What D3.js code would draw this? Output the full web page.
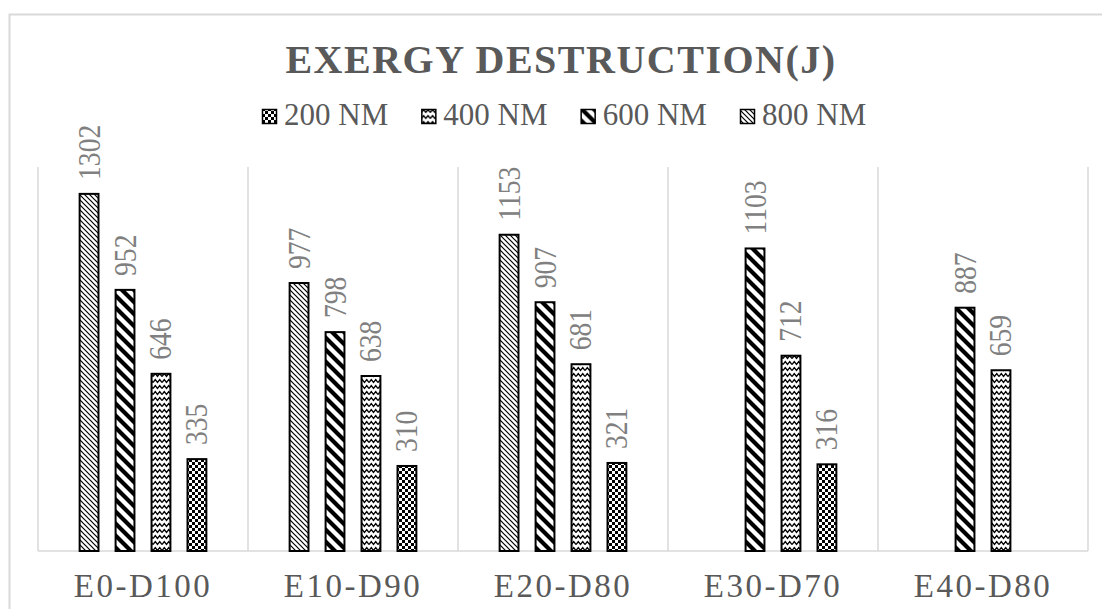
<!DOCTYPE html>
<html>
<head>
<meta charset="utf-8">
<script src="https://cdn.jsdelivr.net/npm/d3@7"></script>
<style>
  html, body { margin: 0; padding: 0; background: #fff; }
  svg { display: block; }
</style>
</head>
<body>
<svg id="chart" width="1102" height="609"></svg>
<script>
// Exergy destruction per blend and wavelength
const categories = ["E0-D100", "E10-D90", "E20-D80", "E30-D70", "E40-D80"];
const legendOrder = ["200 NM", "400 NM", "600 NM", "800 NM"];
const barOrder = ["800 NM", "600 NM", "400 NM", "200 NM"];
const values200 = [335, 310, 321, 316, null];
const values400 = [646, 638, 681, 712, 659];
const values600 = [952, 798, 907, 1103, 887];
const values800 = [1302, 977, 1153, null, null];
const yDomain = [0, 1400];

const seriesValues = {
  "200 NM": values200,
  "400 NM": values400,
  "600 NM": values600,
  "800 NM": values800
};
const patternId = {
  "200 NM": "pat-checker",
  "400 NM": "pat-wave",
  "600 NM": "pat-wide-diag",
  "800 NM": "pat-light-diag"
};

const serif = "'Liberation Serif', 'Times New Roman', serif";
const svg = d3.select("#chart");

// ---- fill patterns ----
const defs = svg.append("defs");

const checker = defs.append("pattern").attr("id", "pat-checker")
  .attr("patternUnits", "userSpaceOnUse").attr("width", 6).attr("height", 6);
checker.append("rect").attr("width", 6).attr("height", 6).attr("fill", "#fff");
checker.append("rect").attr("width", 3).attr("height", 3).attr("fill", "#000");
checker.append("rect").attr("x", 3).attr("y", 3).attr("width", 3).attr("height", 3).attr("fill", "#000");

const wave = defs.append("pattern").attr("id", "pat-wave")
  .attr("patternUnits", "userSpaceOnUse").attr("width", 9).attr("height", 6);
wave.append("rect").attr("width", 9).attr("height", 6).attr("fill", "#fff");
wave.append("path").attr("d", "M0,4.5 L2.25,1.5 L4.5,4.5 L6.75,1.5 L9,4.5")
  .attr("fill", "none").attr("stroke", "#000").attr("stroke-width", 1.3);

const wideDiag = defs.append("pattern").attr("id", "pat-wide-diag")
  .attr("patternUnits", "userSpaceOnUse").attr("width", 12).attr("height", 12);
wideDiag.append("rect").attr("width", 12).attr("height", 12).attr("fill", "#fff");
wideDiag.append("path").attr("d", "M-3,-3 L15,15 M-3,9 L3,15 M9,-3 L15,3")
  .attr("stroke", "#000").attr("stroke-width", 4.2);

const lightDiag = defs.append("pattern").attr("id", "pat-light-diag")
  .attr("patternUnits", "userSpaceOnUse").attr("width", 5).attr("height", 5);
lightDiag.append("rect").attr("width", 5).attr("height", 5).attr("fill", "#fff");
lightDiag.append("path").attr("d", "M-1.25,-1.25 L6.25,6.25 M-1.25,3.75 L1.25,6.25 M3.75,-1.25 L6.25,1.25")
  .attr("stroke", "#000").attr("stroke-width", 1.2);

// ---- outer frame ----
svg.append("rect")
  .attr("x", 9.5).attr("y", 14.5).attr("width", 1110).attr("height", 620)
  .attr("fill", "#fff").attr("stroke", "#d9d9d9").attr("stroke-width", 2);

// ---- scales ----
const plot = { left: 38, right: 1088, top: 167, bottom: 551 };

const x0 = d3.scaleBand().domain(categories).range([plot.left, plot.right]).padding(0);
const x1 = d3.scaleBand().domain(barOrder).range([0, x0.bandwidth()])
  .paddingInner(0.42).paddingOuter(1.13);
const y = d3.scaleLinear().domain(yDomain).range([plot.bottom, plot.top]);

// ---- category separators and baseline ----
const grid = svg.append("g").attr("stroke", "#d9d9d9").attr("stroke-width", 1.5);
const bounds = categories.map(c => x0(c)).concat([x0(categories[categories.length - 1]) + x0.bandwidth()]);
grid.selectAll("line.sep").data(bounds).join("line")
  .attr("class", "sep")
  .attr("x1", d => d).attr("x2", d => d)
  .attr("y1", y(yDomain[1])).attr("y2", y(0));
grid.append("line")
  .attr("x1", plot.left).attr("x2", plot.right)
  .attr("y1", y(0)).attr("y2", y(0));

// ---- bars ----
const rows = [];
categories.forEach((c, i) => {
  barOrder.forEach(s => {
    const v = seriesValues[s][i];
    if (v != null) rows.push({ category: c, series: s, value: v });
  });
});

const bars = svg.append("g");
bars.selectAll("rect").data(rows).join("rect")
  .attr("x", d => x0(d.category) + x1(d.series) + 1)
  .attr("y", d => y(d.value))
  .attr("width", x1.bandwidth() - 2)
  .attr("height", d => y(0) - y(d.value))
  .attr("fill", d => `url(#${patternId[d.series]})`)
  .attr("stroke", "#000").attr("stroke-width", 2);

// ---- value labels (rotated) ----
svg.append("g").selectAll("text").data(rows).join("text")
  .attr("transform", d => {
    const cx = x0(d.category) + x1(d.series) + x1.bandwidth() / 2 + 10.5;
    const cy = y(d.value) - 14;
    return `translate(${cx},${cy}) rotate(-90) scale(0.86,1)`;
  })
  .attr("font-family", serif).attr("font-size", 32)
  .attr("fill", "#808080")
  .text(d => d.value);

// ---- category axis ----
const xAxis = svg.append("g")
  .attr("transform", `translate(0,${y(0)})`)
  .call(d3.axisBottom(x0).tickSize(0).tickPadding(0));
xAxis.select(".domain").remove();
xAxis.selectAll("text")
  .attr("dy", null).attr("y", 46)
  .attr("font-family", serif).attr("font-size", 33)
  .attr("letter-spacing", 2.5)
  .attr("fill", "#595959");

// ---- title ----
svg.append("text")
  .attr("x", 561).attr("y", 73)
  .attr("text-anchor", "middle")
  .attr("font-family", serif).attr("font-size", 40).attr("font-weight", "bold")
  .attr("letter-spacing", 1.5)
  .attr("fill", "#595959")
  .text("EXERGY DESTRUCTION(J)");

// ---- legend ----
const legendX = d3.scalePoint().domain(legendOrder).range([262, 740]);
const legend = svg.append("g").selectAll("g").data(legendOrder).join("g")
  .attr("transform", d => `translate(${legendX(d)},0)`);
legend.append("rect")
  .attr("x", 0.5).attr("y", 109.5).attr("width", 14).attr("height", 14)
  .attr("fill", d => `url(#${patternId[d]})`)
  .attr("stroke", "#000").attr("stroke-width", 1.5);
legend.append("text")
  .attr("x", 22).attr("y", 125)
  .attr("font-family", serif).attr("font-size", 31)
  .attr("fill", "#595959")
  .text(d => d);
</script>
</body>
</html>
